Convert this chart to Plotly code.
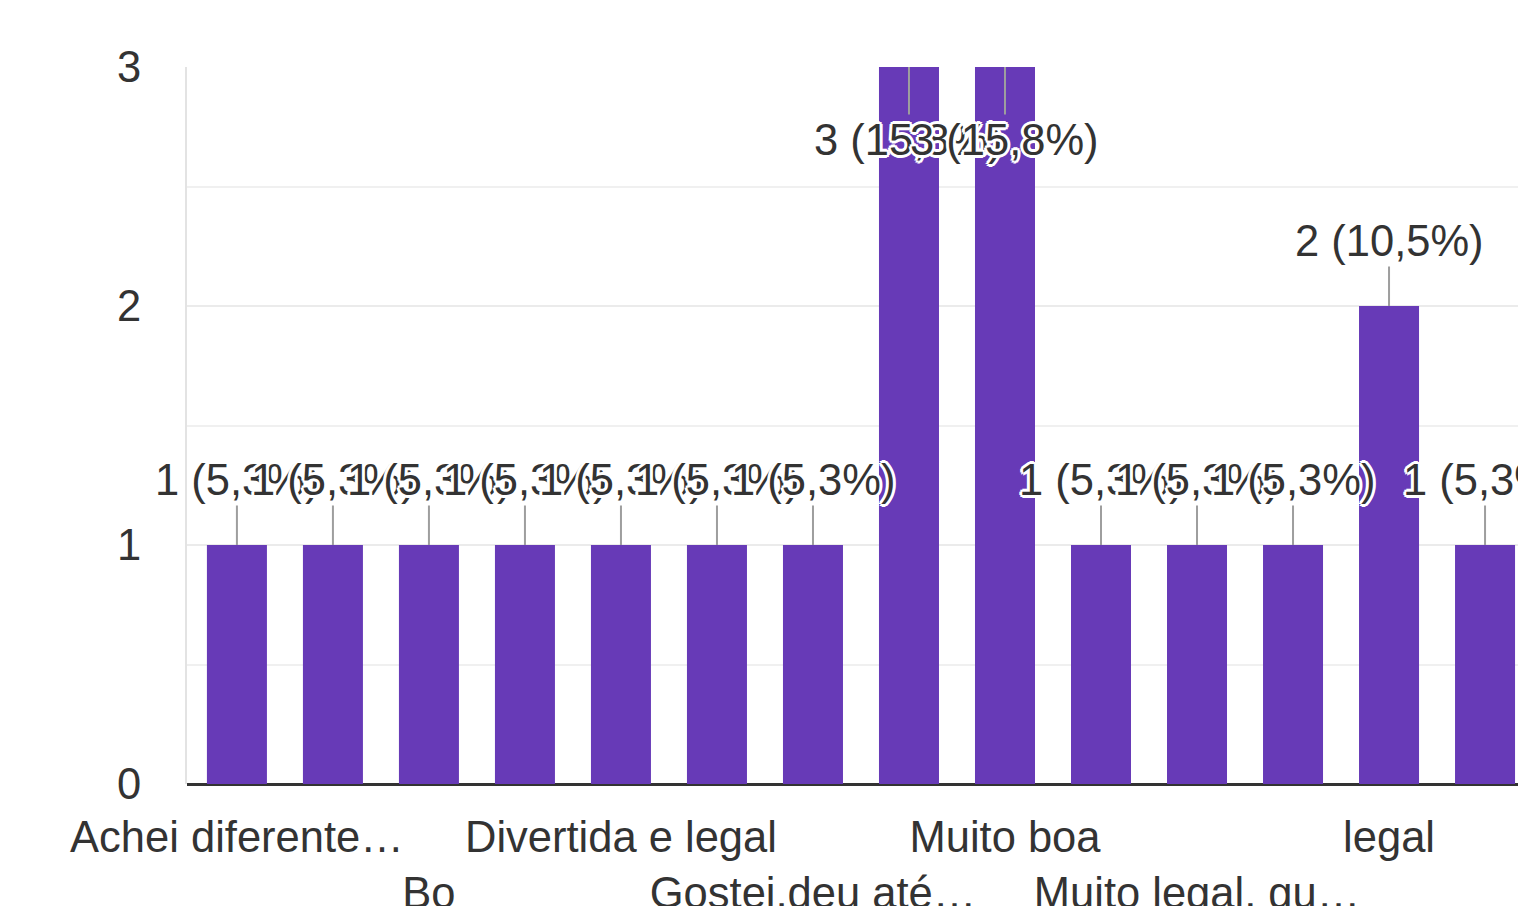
import plotly.graph_objects as go

# ---- data ----
categories = [
    "Achei diferente…", "Adorei", "Bo", "Boa", "Divertida e legal", "Gostei",
    "Gostei,deu até…", "Legal", "Muito boa", "Muito divertida",
    "Muito legal, gu…", "Muito top", "legal", "ótima",
]
counts = [1, 1, 1, 1, 1, 1, 1, 3, 3, 1, 1, 1, 2, 1]
percents = ["5,3%", "5,3%", "5,3%", "5,3%", "5,3%", "5,3%", "5,3%",
            "15,8%", "15,8%", "5,3%", "5,3%", "5,3%", "10,5%", "5,3%"]
y_ticks = [0, 1, 2, 3]

BAR = "#673ab7"
TXT = "#333333"
FONT = "Arial, 'Liberation Sans', sans-serif"
FS = 43.5
HALO = ("white -3px 0px 0px, white 3px 0px 0px, white 0px -3px 0px, white 0px 3px 0px, "
        "white -2px -2px 0px, white 2px -2px 0px, white -2px 2px 0px, white 2px 2px 0px")

fig = go.Figure(go.Bar(x=categories, y=counts, marker=dict(color=BAR, line=dict(width=0)),
                       hoverinfo="skip"))

# tick labels: every other category, alternating between two rows
tickvals, ticktext = [], []
for k, i in enumerate(range(0, len(categories), 2)):
    tickvals.append(categories[i])
    ticktext.append(categories[i] if k % 2 == 0 else "<br>" + categories[i])

ymax = max(y_ticks)
for c, v, p in zip(categories, counts, percents):
    fig.add_annotation(
        x=c, y=v, xref="x", yref="y",
        text=f"{v} ({p})",
        showarrow=True, arrowhead=0, arrowwidth=2, arrowcolor="#9e9e9e",
        ax=0, ay=(73 if v >= ymax else -65), standoff=0,
        font=dict(family=FONT, size=FS, color=TXT, shadow=HALO),
    )

fig.update_layout(
    width=1526, height=906,
    margin=dict(l=179, r=0, t=59, b=130),
    plot_bgcolor="white", paper_bgcolor="white",
    showlegend=False, bargap=0.375,
    font=dict(family=FONT, size=FS, color=TXT),
)
fig.update_xaxes(
    type="category", categoryorder="array", categoryarray=categories,
    range=[-0.52, 13.51], tickmode="array", tickvals=tickvals, ticktext=ticktext,
    showgrid=False, ticks="", tickangle=0, automargin=False, ticklabelstandoff=23,
    tickfont=dict(size=FS, color=TXT),
)
fig.update_yaxes(
    range=[0, ymax], tickmode="array", tickvals=y_ticks,
    gridcolor="#ebebeb", gridwidth=2,
    minor=dict(dtick=0.5, tick0=0, showgrid=True, gridcolor="#f0f0f0", gridwidth=2),
    zeroline=True, zerolinecolor="#333333", zerolinewidth=3,
    showline=True, linecolor="#e3e3e3", linewidth=2, automargin=False,
    ticks="", ticklabelstandoff=35, tickfont=dict(size=FS, color=TXT),
)

fig.write_html("out.html")
